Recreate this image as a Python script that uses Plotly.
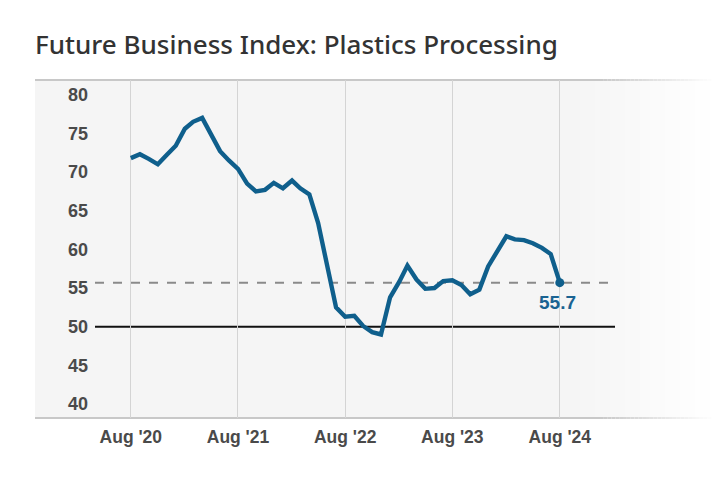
import plotly.graph_objects as go

# ---- data ----
months = [
    "2020-08", "2020-09", "2020-10", "2020-11", "2020-12",
    "2021-01", "2021-02", "2021-03", "2021-04", "2021-05", "2021-06", "2021-07",
    "2021-08", "2021-09", "2021-10", "2021-11", "2021-12",
    "2022-01", "2022-02", "2022-03", "2022-04", "2022-05", "2022-06", "2022-07",
    "2022-08", "2022-09", "2022-10", "2022-11", "2022-12",
    "2023-01", "2023-02", "2023-03", "2023-04", "2023-05", "2023-06", "2023-07",
    "2023-08", "2023-09", "2023-10", "2023-11", "2023-12",
    "2024-01", "2024-02", "2024-03", "2024-04", "2024-05", "2024-06", "2024-07",
    "2024-08",
]
index_values = [
    71.8, 72.3, 71.7, 71.0, 72.2,
    73.4, 75.6, 76.5, 77.0, 74.8, 72.7, 71.5,
    70.4, 68.5, 67.5, 67.7, 68.6,
    67.9, 68.9, 67.9, 67.1, 63.4, 57.8, 52.5,
    51.3, 51.4, 50.1, 49.3, 49.0,
    53.8, 55.8, 57.9, 56.1, 54.9, 55.0, 55.9,
    56.0, 55.4, 54.2, 54.8, 57.8,
    59.7, 61.7, 61.3, 61.2, 60.8, 60.2, 59.4,
    55.7,
]
x_tick_vals = ["2020-08", "2021-08", "2022-08", "2023-08", "2024-08"]
x_tick_text = ["Aug '20", "Aug '21", "Aug '22", "Aug '23", "Aug '24"]
y_tick_vals = [40, 45, 50, 55, 60, 65, 70, 75, 80]
threshold = 50
last_label = "55.7"

dates = [m + "-01" for m in months]
tick_dates = [m + "-01" for m in x_tick_vals]

LINE = "#0f5f8c"
OFF = 8  # page body margin
W, H = 720 - OFF, 480 - OFF

fig = go.Figure()
fig.add_trace(go.Scatter(
    x=dates, y=index_values, mode="lines",
    line=dict(color=LINE, width=4.4, shape="linear"),
    hoverinfo="skip", showlegend=False,
))
fig.add_trace(go.Scatter(
    x=[dates[-1]], y=[index_values[-1]], mode="markers",
    marker=dict(color=LINE, size=9),
    hoverinfo="skip", showlegend=False,
))

# ---- background with fade to white at the right (page pixel coords) ----
L, R, T, B = 95, 615, 80, 418
def px(p):
    return (p - L) / (R - L)

shapes = []
bg_left, fade_start, fade_end = 35, 575, 715
base = (245, 245, 245)
shapes.append(dict(type="rect", xref="paper", yref="paper",
                   x0=px(bg_left), x1=px(fade_start), y0=0, y1=1,
                   fillcolor="rgb(%d,%d,%d)" % base, line=dict(width=0), layer="below"))
n = 28
for i in range(n):
    a = fade_start + (fade_end - fade_start) * i / n
    b = fade_start + (fade_end - fade_start) * (i + 1) / n
    t = (i + 0.5) / n
    c = tuple(int(round(v + (255 - v) * t)) for v in base)
    shapes.append(dict(type="rect", xref="paper", yref="paper",
                       x0=px(a), x1=px(b) + 0.001, y0=0, y1=1,
                       fillcolor="rgb(%d,%d,%d)" % c, line=dict(width=0), layer="below"))

border = (200, 200, 200)
nb = 30
b_fade_start = 600
for yy in (0, 1):
    shapes.append(dict(type="line", xref="paper", yref="paper", x0=px(bg_left), x1=px(b_fade_start),
                       y0=yy, y1=yy, line=dict(color="rgb(%d,%d,%d)" % border, width=2),
                       layer="below"))
for i in range(nb):
    a = b_fade_start + (fade_end - b_fade_start) * i / nb
    b = b_fade_start + (fade_end - b_fade_start) * (i + 1) / nb
    t = (i + 0.5) / nb
    c = tuple(int(round(v + (255 - v) * t)) for v in border)
    for yy in (0, 1):
        shapes.append(dict(type="line", xref="paper", yref="paper", x0=px(a), x1=px(b),
                           y0=yy, y1=yy, line=dict(color="rgb(%d,%d,%d)" % c, width=2),
                           layer="below"))

shapes.append(dict(type="line", xref="paper", yref="y", x0=0, x1=1,
                   y0=index_values[-1], y1=index_values[-1],
                   line=dict(color="#8a8a8a", width=2, dash="dash"), layer="below"))
shapes.append(dict(type="line", xref="paper", yref="y", x0=0, x1=1,
                   y0=threshold, y1=threshold,
                   line=dict(color="#111111", width=2), layer="below"))

fig.update_layout(
    width=W, height=H,
    margin=dict(l=L - OFF, r=720 - R, t=T - OFF, b=480 - B),
    paper_bgcolor="white", plot_bgcolor="rgba(0,0,0,0)",
    shapes=shapes,
    title=dict(text="Future Business Index: Plastics Processing",
               x=(35 - OFF) / W, xanchor="left", xref="container",
               y=1 - (45 - OFF) / H, yanchor="middle",
               font=dict(family="Noto Sans", size=26, color="#333333", weight=500)),
    annotations=[dict(x=dates[-1], y=index_values[-1], xref="x", yref="y",
                      text=last_label, showarrow=False, yanchor="top", yshift=-7,
                      xshift=-2,
                      font=dict(family="Liberation Sans", size=19, color="#1a6392",
                                weight="bold"))],
)
fig.update_xaxes(
    type="date", range=["2020-04-01", "2025-02-05"],
    tickvals=tick_dates, ticktext=x_tick_text,
    showgrid=True, gridcolor="#d4d4d4", gridwidth=1,
    showline=False, zeroline=False, ticks="",
    tickfont=dict(family="Liberation Sans", size=17.5, color="#4a4a4a", weight="bold"),
    ticklabelstandoff=6,
)
fig.update_yaxes(
    range=[38.2, 81.9], tickvals=y_tick_vals,
    showgrid=False, showline=False, zeroline=False, ticks="",
    tickfont=dict(family="Liberation Sans", size=18, color="#4a4a4a", weight="bold"),
    ticklabelstandoff=6,
)

fig.write_html("out.html")
